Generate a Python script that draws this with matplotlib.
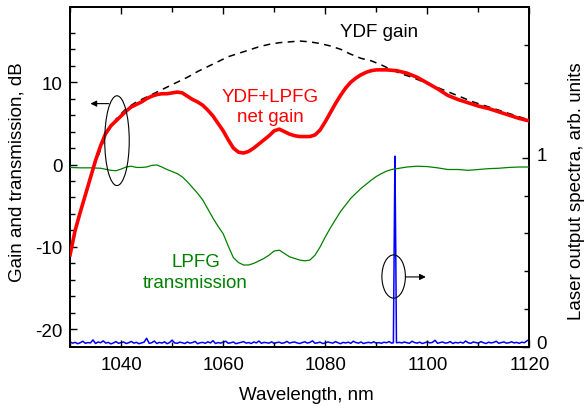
import numpy as np
import matplotlib
matplotlib.use("Agg")
import matplotlib.pyplot as plt
import matplotlib.transforms as mtransforms
from matplotlib.patches import Ellipse
from matplotlib.ticker import MultipleLocator, FixedLocator

plt.rcParams['font.family'] = ['Liberation Sans', 'DejaVu Sans']
plt.rcParams['axes.unicode_minus'] = False

# net gain YDF+LPFG, dB
net_wl = [1030, 1031, 1032, 1033, 1034, 1035, 1036, 1037, 1038, 1039, 1040,
          1041, 1042, 1043, 1044, 1045, 1046, 1047, 1048, 1049, 1050,
          1051, 1052, 1053, 1054, 1055, 1056, 1057, 1058, 1059, 1060,
          1061, 1062, 1063, 1064, 1065, 1066, 1067, 1068, 1069, 1070,
          1071, 1072, 1073, 1074, 1075, 1076, 1077, 1078, 1079, 1080,
          1081, 1082, 1083, 1084, 1085, 1086, 1087, 1088, 1089, 1090,
          1092, 1094, 1096, 1098, 1100, 1102, 1104, 1106, 1108, 1110,
          1112, 1114, 1116, 1118, 1120]
net_gain = [-11.0, -8.0, -5.8, -3.7, -1.6, 0.5, 2.3, 3.8, 4.7, 5.3, 5.9,
            6.5, 7.0, 7.3, 7.6, 8.0, 8.3, 8.5, 8.6, 8.6, 8.7,
            8.8, 8.7, 8.3, 7.9, 7.6, 7.2, 6.6, 5.9, 5.0, 4.1,
            3.0, 2.0, 1.5, 1.4, 1.6, 2.0, 2.5, 3.0, 3.5, 4.1,
            4.3, 4.0, 3.7, 3.5, 3.4, 3.4, 3.4, 3.6, 4.2, 5.2,
            6.3, 7.4, 8.4, 9.3, 10.0, 10.5, 10.9, 11.2, 11.4, 11.5,
            11.5, 11.4, 11.1, 10.6, 9.9, 9.2, 8.4, 7.9, 7.5, 7.1,
            6.8, 6.4, 6.0, 5.6, 5.3]

# YDF gain, dB
ydf_wl = [1035.5, 1037, 1039, 1041, 1043, 1045, 1047, 1049, 1051, 1053,
          1055, 1057, 1059, 1061, 1063, 1065, 1067, 1069, 1071, 1073,
          1075, 1077, 1079, 1081, 1083, 1085, 1087, 1089, 1091, 1093,
          1095, 1097, 1099, 1101, 1103, 1105, 1107, 1109, 1111, 1113,
          1115, 1117, 1120]
ydf_gain = [1.0, 3.6, 5.5, 6.8, 7.6, 8.2, 8.8, 9.4, 10.0, 10.6,
            11.3, 11.9, 12.5, 13.1, 13.5, 13.9, 14.3, 14.6, 14.8, 14.9,
            15.0, 14.9, 14.7, 14.4, 14.0, 13.4, 12.9, 12.6, 12.1, 11.5,
            11.0, 10.6, 10.1, 9.6, 9.1, 8.6, 8.1, 7.6, 7.2, 6.8,
            6.4, 6.0, 5.4]

# LPFG transmission, dB
lpfg_wl = [1030, 1032, 1034, 1036, 1038, 1039, 1040, 1041, 1042, 1043,
           1044, 1045, 1046, 1047, 1048, 1049, 1050, 1051, 1052, 1053,
           1054, 1055, 1056, 1057, 1058, 1059, 1060, 1061, 1062, 1063,
           1064, 1065, 1066, 1067, 1068, 1069, 1070, 1071, 1072, 1073,
           1074, 1075, 1076, 1077, 1078, 1079, 1080, 1081, 1082, 1083,
           1084, 1085, 1086, 1087, 1088, 1089, 1090, 1091, 1092, 1093,
           1094, 1096, 1098, 1100, 1102, 1104, 1106, 1108, 1110, 1112,
           1114, 1116, 1118, 1120]
lpfg_tr = [-0.35, -0.4, -0.4, -0.45, -0.7, -0.75, -0.55, -0.3, -0.2, -0.35,
           -0.35, -0.3, -0.1, -0.05, -0.3, -0.6, -0.85, -1.1, -1.5, -2.1,
           -2.8, -3.5, -4.3, -5.4, -6.5, -7.5, -8.4, -9.9, -11.3, -11.9,
           -12.2, -12.2, -12.0, -11.7, -11.4, -11.0, -10.5, -10.4, -10.8, -11.2,
           -11.4, -11.6, -11.7, -11.6, -11.0, -10.0, -8.8, -7.7, -6.7, -5.7,
           -4.9, -4.1, -3.5, -2.9, -2.4, -1.9, -1.45, -1.1, -0.8, -0.6,
           -0.5, -0.3, -0.2, -0.25, -0.4, -0.6, -0.6, -0.7, -0.6, -0.5,
           -0.45, -0.35, -0.3, -0.3]

# laser output spectrum, arb. units (noise floor every 0.5 nm + lasing line)
floor_wl = np.arange(1030, 1120.01, 0.5)
floor_lvl = [
    0.025, 0.018, 0.022, 0.015, 0.020, 0.028, 0.017, 0.021, 0.019, 0.035,
    0.016, 0.024, 0.020, 0.030, 0.018, 0.022, 0.014, 0.019, 0.026, 0.017,
    0.021, 0.024, 0.016, 0.020, 0.027, 0.018, 0.022, 0.015, 0.019, 0.023,
    0.044, 0.017, 0.020, 0.029, 0.016, 0.022, 0.018, 0.025, 0.015, 0.021,
    0.034, 0.019, 0.017, 0.023, 0.020, 0.016, 0.024, 0.018, 0.021, 0.027,
    0.015, 0.020, 0.022, 0.017, 0.025, 0.019, 0.031, 0.016, 0.021, 0.018,
    0.023, 0.028, 0.017, 0.020, 0.024, 0.015, 0.019, 0.022, 0.026, 0.018,
    0.021, 0.016, 0.024, 0.019, 0.029, 0.017, 0.022, 0.020, 0.018, 0.025,
    0.016, 0.021, 0.023, 0.017, 0.020, 0.027, 0.018, 0.022, 0.024, 0.019,
    0.016, 0.021, 0.025, 0.018, 0.022, 0.030, 0.017, 0.020, 0.023, 0.016,
    0.019, 0.024, 0.021, 0.018, 0.026, 0.020, 0.015, 0.022, 0.019, 0.023,
    0.017, 0.028, 0.021, 0.018, 0.024, 0.016, 0.020, 0.022, 0.019, 0.025,
    0.018, 0.021, 0.017, 0.023, 0.020, 0.026, 0.018, 0.032, 0.016, 0.022,
    0.019, 0.024, 0.020, 0.017, 0.028, 0.021, 0.018, 0.023, 0.016, 0.020,
    0.025, 0.019, 0.022, 0.033, 0.017, 0.021, 0.024, 0.018, 0.020, 0.026,
    0.016, 0.022, 0.019, 0.023, 0.018, 0.029, 0.020, 0.017, 0.024, 0.021,
    0.018, 0.026, 0.020, 0.016, 0.023, 0.019, 0.022, 0.028, 0.017, 0.021,
    0.024, 0.018, 0.020, 0.025, 0.019, 0.022, 0.017, 0.023, 0.020, 0.030,
    0.038]
peak_wl = [1093.35, 1093.5, 1093.65, 1093.8, 1093.95]
peak_lvl = [0.02, 0.55, 1.01, 0.55, 0.02]

keep = (floor_wl < 1093.3) | (floor_wl > 1094.0)
laser_wl = np.concatenate([floor_wl[keep], peak_wl])
laser_lvl = np.concatenate([np.array(floor_lvl)[keep], peak_lvl])
order = np.argsort(laser_wl)
laser_wl, laser_lvl = laser_wl[order], laser_lvl[order]

fig = plt.figure(figsize=(5.85, 4.10), dpi=100)
ax = fig.add_axes([0.1197, 0.1524, 0.7853, 0.8274])
ax2 = ax.twinx()

ax2.plot(laser_wl, laser_lvl, color='#0000ff', lw=1.1)
ax.plot(lpfg_wl, lpfg_tr, color='#008000', lw=0.9, zorder=3)
ax.plot(ydf_wl, ydf_gain, color='black', lw=1.1, dashes=(4.5, 3.5), zorder=4)
ax.plot(net_wl, net_gain, color='#ff0000', lw=2.6, zorder=5)
ax.set_zorder(ax2.get_zorder() + 1)
ax.patch.set_visible(False)

ax.set_xlim(1030, 1120)
ax.set_ylim(-22.1, 19.1)
ax2.set_ylim(0, 1.8)

ax.xaxis.set_major_locator(MultipleLocator(20))
ax.xaxis.set_minor_locator(MultipleLocator(10))
ax.yaxis.set_major_locator(FixedLocator([-20, -10, 0, 10]))
ax.yaxis.set_minor_locator(FixedLocator(np.arange(-20, 17, 2)))
ax2.yaxis.set_major_locator(FixedLocator([0, 1]))
ax2.yaxis.set_minor_locator(FixedLocator(np.arange(0.2, 1.8, 0.2)))

ax.tick_params(which='both', direction='in', top=True, right=False, labelsize=13.5, width=1.0)
ax.tick_params(which='major', length=5)
ax.tick_params(which='minor', length=3.5)
ax.tick_params(axis='x', which='major', pad=7)
ax.tick_params(axis='y', which='major', pad=5.5)
ax2.tick_params(which='both', direction='in', labelsize=13.5, width=1.0)
ax2.tick_params(which='major', length=5, pad=5)
ax2.tick_params(which='minor', length=3.5)
for sp in ax.spines.values():
    sp.set_linewidth(1.3)
for sp in ax2.spines.values():
    sp.set_linewidth(1.3)

# right tick labels sit a little above their ticks in the original
shift_up = mtransforms.ScaledTranslation(0, 5 / 100, fig.dpi_scale_trans)
for lab in ax2.get_yticklabels():
    lab.set_transform(lab.get_transform() + shift_up)

ax.set_xlabel('Wavelength, nm', fontsize=13.5)
ax.set_ylabel('Gain and transmission, dB', fontsize=13.5)
ax2.set_ylabel('Laser output spectra, arb. units', fontsize=13.5)
ax.xaxis.label.set_va('center')
ax.yaxis.label.set_va('center')
ax2.yaxis.label.set_va('center')
ax.xaxis.set_label_coords(0.515, -0.14)
ax.yaxis.set_label_coords(-0.115, 0.516)
ax2.yaxis.set_label_coords(1.102, 0.461)

ax.text(1090.6, 16.1, 'YDF gain', fontsize=13.5, ha='center', va='center', color='black')
ax.text(1069.2, 7.05, 'YDF+LPFG\nnet gain', fontsize=13.5, ha='center', va='center',
        color='#ff0000', linespacing=1.3)
ax.text(1054.6, -13.0, 'LPFG\ntransmission', fontsize=13.5, ha='center', va='center',
        color='#008000', linespacing=1.3)

# ellipses marking which axis each curve belongs to
ax.add_patch(Ellipse((1039.2, 2.9), 4.8, 10.9, fill=False, ec='black', lw=0.8, zorder=6))
ax.annotate('', xy=(1034.0, 7.4), xytext=(1037.6, 7.4),
            arrowprops=dict(arrowstyle='-|>', color='black', lw=0.8,
                            mutation_scale=9, shrinkA=0, shrinkB=0), zorder=6)
ax.add_patch(Ellipse((1093.4, -13.6), 4.6, 5.25, fill=False, ec='black', lw=0.8, zorder=6))
ax.annotate('', xy=(1099.7, -13.65), xytext=(1095.7, -13.65),
            arrowprops=dict(arrowstyle='-|>', color='black', lw=0.8,
                            mutation_scale=9, shrinkA=0, shrinkB=0), zorder=6)

fig.savefig('out.png', dpi=100)
